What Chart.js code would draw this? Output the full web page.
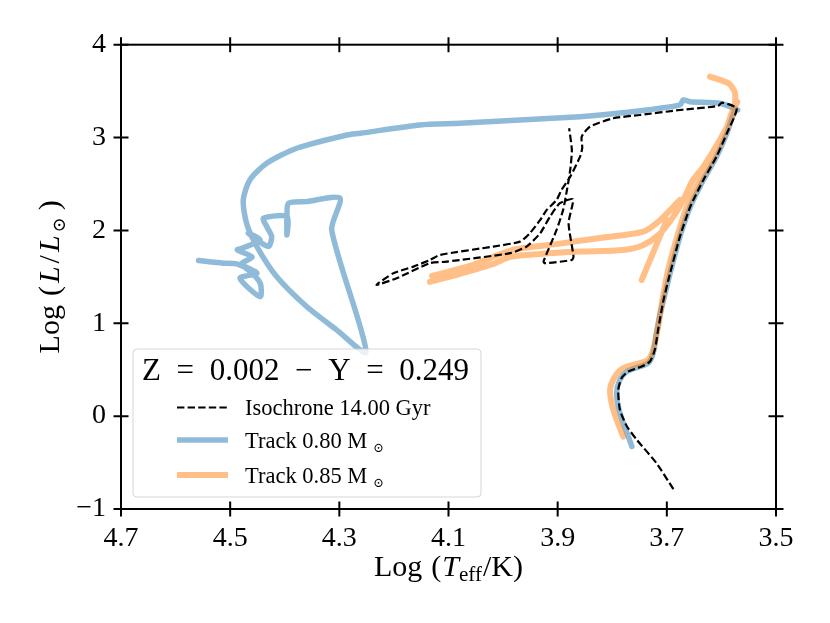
<!DOCTYPE html>
<html>
<head>
<meta charset="utf-8">
<script src="https://cdn.jsdelivr.net/npm/chart.js@4.4.1/dist/chart.umd.min.js"></script>
<style>
  body { margin: 0; background: #fff; }
  #wrap { width: 830px; height: 623px; }
</style>
</head>
<body>
<div id="wrap"><canvas id="hrd" width="830" height="623"></canvas></div>
<script>
// axis ticks
const xTicks = [4.7, 4.5, 4.3, 4.1, 3.9, 3.7, 3.5];
const xTickLabels = ['4.7', '4.5', '4.3', '4.1', '3.9', '3.7', '3.5'];
const yTicks = [-1, 0, 1, 2, 3, 4];
const yTickLabels = ['\u22121', '0', '1', '2', '3', '4'];

// isochrone 14.00 Gyr
const isoLogT = [3.688, 3.719, 3.755, 3.773, 3.786, 3.789, 3.783, 3.771, 3.746, 3.731, 3.722, 3.716, 3.706,
  3.694, 3.676, 3.657, 3.633, 3.609, 3.590, 3.572, 3.599, 3.606, 3.676, 3.749, 3.798, 3.841, 3.856,
  3.855, 3.859, 3.877, 3.893, 3.902, 3.920, 3.932, 3.951, 3.969, 4.018, 4.116, 4.134, 4.164, 4.201, 4.232,
  4.195, 4.134, 4.103, 3.987, 3.957, 3.932, 3.914, 3.896, 3.872, 3.880, 3.871, 3.874, 3.923, 3.926,
  3.902, 3.890, 3.883, 3.877, 3.874, 3.879];
const isoLogL = [-0.786, -0.506, -0.255, -0.112, 0.068, 0.283, 0.409, 0.480, 0.534, 0.588, 0.714, 0.929, 1.252,
  1.539, 1.933, 2.256, 2.544, 2.794, 3.046, 3.315, 3.376, 3.340, 3.297, 3.243, 3.208, 3.117, 3.010,
  2.888, 2.794, 2.579, 2.436, 2.328, 2.221, 2.113, 1.970, 1.879, 1.826, 1.736, 1.682, 1.610, 1.539, 1.413,
  1.485, 1.647, 1.664, 1.755, 1.826, 1.970, 2.149, 2.293, 2.336, 2.078, 1.718, 1.682, 1.647, 1.664,
  2.005, 2.221, 2.436, 2.651, 2.867, 3.100];

// track 0.80 Msun
const trk080LogT = [3.764, 3.786, 3.792, 3.786, 3.773, 3.749, 3.734, 3.725, 3.719, 3.712, 3.706,
  3.694, 3.676, 3.657, 3.633, 3.609, 3.590, 3.575, 3.570, 3.603, 3.657, 3.670, 3.676, 3.737, 3.822, 3.859,
  4.079, 4.152, 4.262, 4.286, 4.378, 4.433, 4.464, 4.476, 4.470, 4.451, 4.415, 4.360, 4.305, 4.251,
  4.314, 4.299, 4.360, 4.393, 4.396, 4.396, 4.396, 4.439, 4.433, 4.424, 4.430,
  4.467, 4.445, 4.476, 4.487, 4.460, 4.479, 4.451, 4.482, 4.445, 4.445, 4.467, 4.488, 4.513, 4.558];
const trk080LogL = [-0.327, 0.036, 0.251, 0.391, 0.480, 0.534, 0.571, 0.678, 0.893, 1.109, 1.252,
  1.539, 1.933, 2.256, 2.544, 2.794, 3.046, 3.297, 3.297, 3.369, 3.386, 3.405, 3.351, 3.297, 3.243, 3.225,
  3.154, 3.136, 3.046, 3.028, 2.885, 2.723, 2.544, 2.328, 2.078, 1.826, 1.503, 1.180, 0.929, 0.692,
  2.005, 2.347, 2.310, 2.293, 2.149, 1.952, 2.149, 2.131, 2.041, 1.933, 1.826,
  1.970, 1.898, 1.812, 1.790, 1.715, 1.639, 1.539, 1.485, 1.287, 1.432, 1.575, 1.639, 1.647, 1.675];

// track 0.85 Msun (null = break in the line)
const trk085LogT = [3.780, 3.798, 3.804, 3.795, 3.780, 3.749, 3.734, 3.725, 3.716, 3.709,
  3.699, 3.681, 3.663, 3.639, 3.614, 3.594, 3.579, 3.571, null,
  4.130, 4.061, 3.982, 3.896, 3.822, 3.743, 3.712, 3.676, null,
  4.134, 4.079, 4.018, 3.987, 3.932, 3.859, 3.780, 3.743, 3.712, 3.688, 3.670,
  3.652, 3.633, 3.603, 3.578, 3.575, 3.587, 3.621, null,
  3.746, 3.700];
const trk085LogL = [-0.220, 0.068, 0.283, 0.426, 0.517, 0.571, 0.606, 0.714, 0.965, 1.216,
  1.539, 1.933, 2.256, 2.544, 2.794, 3.046, 3.297, 3.383, null,
  1.510, 1.618, 1.790, 1.858, 1.919, 1.987, 2.113, 2.328, null,
  1.446, 1.532, 1.639, 1.715, 1.747, 1.772, 1.790, 1.844, 1.970, 2.149, 2.328,
  2.544, 2.687, 2.974, 3.262, 3.477, 3.584, 3.656, null,
  1.467, 2.113];

const legendTitleParts = ['Z', '=', '0.002', '\u2212', 'Y', '=', '0.249'];
const legendLabels = ['Isochrone 14.00 Gyr', 'Track 0.80 M', 'Track 0.85 M'];

const SERIF = '"Liberation Serif", "Times New Roman", "DejaVu Serif", serif';
const BLUE = 'rgba(31,119,180,0.5)';
const ORANGE = 'rgba(255,127,14,0.5)';

function pts(ts, ls) {
  return ts.map((t, i) => ({ x: t, y: ls[i] }));
}

// draws a run of text pieces starting at x, returns total width
function textRun(ctx, parts, x, y, measureOnly) {
  let cx = x;
  parts.forEach(p => {
    ctx.font = (p.style || '') + ' ' + p.size + 'px ' + SERIF;
    if (!measureOnly) ctx.fillText(p.t, cx, y + (p.dy || 0));
    cx += ctx.measureText(p.t).width + (p.gap || 0);
  });
  return cx - x;
}

const xTitle = [
  { t: 'Log', size: 30, gap: 9 },
  { t: '(', size: 30, gap: 1 },
  { t: 'T', size: 30, style: 'italic', gap: 0 },
  { t: 'eff', size: 21, dy: 5, gap: 1 },
  { t: '/K)', size: 30 }
];
const yTitle = [
  { t: 'Log', size: 30, gap: 9 },
  { t: '(', size: 30, gap: 3 },
  { t: 'L', size: 30, style: 'italic', gap: 3 },
  { t: '/', size: 30, gap: 3 },
  { t: 'L', size: 30, style: 'italic', gap: 3 },
  { t: '\u2299', size: 18, dy: 6, gap: 7 },
  { t: ')', size: 30 }
];

const decorations = {
  id: 'decorations',
  afterDatasetsDraw(chart) {
    const ctx = chart.ctx;
    const ds = chart.data.datasets;
    ctx.save();
    // legend box
    const bx = 133, by = 349, bw = 348, bh = 148;
    ctx.beginPath();
    ctx.roundRect(bx, by, bw, bh, 4);
    ctx.fillStyle = 'rgba(255,255,255,0.8)';
    ctx.fill();
    ctx.strokeStyle = 'rgba(204,204,204,0.8)';
    ctx.lineWidth = 1;
    ctx.stroke();

    // title
    ctx.fillStyle = '#000';
    ctx.textBaseline = 'alphabetic';
    ctx.textAlign = 'left';
    ctx.font = '31px ' + SERIF;
    const ws = legendTitleParts.map(t => ctx.measureText(t).width);
    const gap = (327 - ws.reduce((a, b) => a + b, 0)) / (legendTitleParts.length - 1);
    let tx = 142;
    legendTitleParts.forEach((t, i) => { ctx.fillText(t, tx, 380); tx += ws[i] + gap; });

    // entries
    const rows = [407.5, 440, 475];
    rows.forEach((ry, i) => {
      const d = ds[i];
      ctx.beginPath();
      ctx.strokeStyle = d.borderColor;
      ctx.lineWidth = d.borderWidth;
      ctx.setLineDash(d.borderDash || []);
      ctx.lineCap = 'butt';
      ctx.moveTo(177, ry);
      ctx.lineTo(228, ry);
      ctx.stroke();
      ctx.setLineDash([]);
      ctx.fillStyle = '#000';
      const parts = [{ t: legendLabels[i], size: 22.5, gap: 6 }];
      if (i > 0) parts.push({ t: '\u2299', size: 13, dy: 4 });
      textRun(ctx, parts, 245, ry + 7.5);
    });
    ctx.restore();
  },
  afterDraw(chart) {
    const { ctx, chartArea: a, scales } = chart;
    const x = scales.x, y = scales.y;
    ctx.save();
    ctx.strokeStyle = '#000';
    ctx.lineWidth = 2;
    ctx.strokeRect(a.left, a.top, a.right - a.left, a.bottom - a.top);
    ctx.beginPath();
    const tl = 7.5;
    xTicks.forEach(v => {
      const px = x.getPixelForValue(v);
      ctx.moveTo(px, a.bottom - tl); ctx.lineTo(px, a.bottom + tl);
      ctx.moveTo(px, a.top - tl); ctx.lineTo(px, a.top + tl);
    });
    yTicks.forEach(v => {
      const py = y.getPixelForValue(v);
      ctx.moveTo(a.left - tl, py); ctx.lineTo(a.left + tl, py);
      ctx.moveTo(a.right - tl, py); ctx.lineTo(a.right + tl, py);
    });
    ctx.stroke();

    // axis titles
    ctx.fillStyle = '#000';
    ctx.textBaseline = 'alphabetic';
    ctx.textAlign = 'left';
    const cx = (a.left + a.right) / 2;
    const wx = textRun(ctx, xTitle, 0, 0, true);
    textRun(ctx, xTitle, cx - wx / 2, 576);

    const cy = (a.top + a.bottom) / 2;
    const wy = textRun(ctx, yTitle, 0, 0, true);
    ctx.translate(59, cy);
    ctx.rotate(-Math.PI / 2);
    textRun(ctx, yTitle, -wy / 2, 0);
    ctx.restore();
  }
};

new Chart(document.getElementById('hrd'), {
  type: 'scatter',
  data: {
    datasets: [
      {
        label: 'Isochrone 14.00 Gyr',
        data: pts(isoLogT, isoLogL),
        showLine: true,
        tension: 0.2,
        borderColor: '#000',
        borderWidth: 2.2,
        borderDash: [7.4, 3.2],
        pointRadius: 0,
        order: 0
      },
      {
        label: 'Track 0.80 Msun',
        data: pts(trk080LogT, trk080LogL),
        showLine: true,
        tension: 0.25,
        borderColor: BLUE,
        borderWidth: 5.5,
        borderCapStyle: 'round',
        borderJoinStyle: 'round',
        pointRadius: 0,
        order: 2
      },
      {
        label: 'Track 0.85 Msun',
        data: pts(trk085LogT, trk085LogL),
        showLine: true,
        tension: 0.25,
        spanGaps: false,
        borderColor: ORANGE,
        borderWidth: 6,
        borderCapStyle: 'round',
        borderJoinStyle: 'round',
        pointRadius: 0,
        order: 1
      }
    ]
  },
  options: {
    responsive: false,
    animation: false,
    devicePixelRatio: 1,
    layout: { padding: { top: 44.7, right: 54, left: 0, bottom: 0 } },
    plugins: {
      legend: { display: false },
      tooltip: { enabled: false }
    },
    scales: {
      x: {
        type: 'linear',
        position: 'bottom',
        min: 3.5,
        max: 4.7,
        reverse: true,
        grid: { display: false, drawTicks: false },
        border: { display: false },
        afterBuildTicks: s => { s.ticks = xTicks.map(v => ({ value: v })); },
        afterFit: s => { s.height = 114; },
        ticks: {
          autoSkip: false,
          maxRotation: 0,
          padding: 13,
          color: '#000',
          font: { family: SERIF, size: 28 },
          callback: (v, i) => xTickLabels[i]
        }
      },
      y: {
        type: 'linear',
        position: 'left',
        min: -1,
        max: 4,
        grid: { display: false, drawTicks: false },
        border: { display: false },
        afterBuildTicks: s => { s.ticks = yTicks.map(v => ({ value: v })); },
        afterFit: s => { s.width = 121; },
        ticks: {
          autoSkip: false,
          padding: 15,
          color: '#000',
          font: { family: SERIF, size: 28 },
          callback: (v, i) => yTickLabels[i]
        }
      }
    }
  },
  plugins: [decorations]
});
</script>
</body>
</html>
